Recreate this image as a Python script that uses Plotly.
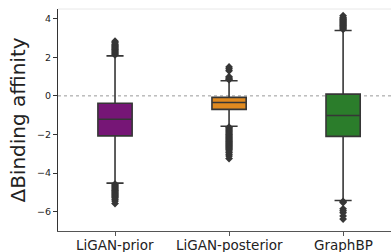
import plotly.graph_objects as go

categories = ["LiGAN-prior", "LiGAN-posterior", "GraphBP"]
positions = [0, 1, 2]
q1 = [-2.07, -0.70, -2.10]
median = [-1.21, -0.34, -1.02]
q3 = [-0.38, -0.08, 0.09]
lower_fence = [-4.52, -1.57, -5.42]
upper_fence = [2.07, 0.78, 3.39]
box_colors = ["#761676", "#e08a20", "#2b7d2b"]

outliers_prior = [2.12, 2.17, 2.22, 2.27, 2.32, 2.37, 2.42, 2.47, 2.52, 2.57, 2.62, 2.68, 2.75, 2.83,
                  -4.57, -4.62, -4.67, -4.72, -4.77, -4.82, -4.87, -4.92, -4.97, -5.02, -5.07,
                  -5.12, -5.17, -5.22, -5.28, -5.35, -5.45, -5.58]
outliers_posterior = [0.84, 0.88, 0.93, 0.99, 1.30, 1.40, 1.50,
                      -1.62, -1.67, -1.72, -1.77, -1.82, -1.87, -1.92, -1.97, -2.02, -2.07,
                      -2.12, -2.17, -2.22, -2.27, -2.32, -2.37, -2.42, -2.47, -2.52, -2.57,
                      -2.62, -2.67, -2.72, -2.78, -2.85, -2.93, -3.02, -3.12, -3.25]
outliers_graphbp = [3.45, 3.50, 3.55, 3.60, 3.65, 3.70, 3.75, 3.80, 3.85, 3.90, 3.95, 4.00, 4.06, 4.15,
                    -5.47, -5.53, -5.85, -5.95, -6.05, -6.22, -6.38]
outliers = [outliers_prior, outliers_posterior, outliers_graphbp]

y_ticks = [-6, -4, -2, 0, 2, 4]

line_col = "#363636"
fig = go.Figure()
for pos, a, m, b, lo, hi, col in zip(positions, q1, median, q3, lower_fence, upper_fence, box_colors):
    fig.add_trace(go.Box(
        x=[pos], q1=[a], median=[m], q3=[b], lowerfence=[lo], upperfence=[hi],
        fillcolor=col, line=dict(color=line_col, width=1.6), width=0.3, whiskerwidth=0.5,
        boxpoints=False, showlegend=False, hoverinfo="skip"))
for pos, vals in zip(positions, outliers):
    fig.add_trace(go.Scatter(
        x=[pos] * len(vals), y=vals, mode="markers",
        marker=dict(symbol="diamond", size=6, color=line_col, line=dict(width=0)),
        showlegend=False, hoverinfo="skip"))

fig.add_shape(type="line", xref="paper", yref="y", x0=0, x1=1, y0=0, y1=0,
              line=dict(color="#9a9a9a", width=1, dash="dot"), layer="below")
fig.add_shape(type="line", xref="paper", yref="paper", x0=0, x1=1, y0=1, y1=1,
              line=dict(color="#e8e8e8", width=1))

for pos, cat in zip(positions, categories):
    fig.add_annotation(x=pos, y=0, xref="x", yref="paper", text=cat, showarrow=False,
                       xanchor="center", yanchor="top", yshift=-4,
                       font=dict(size=13.5, color="#222", family="DejaVu Sans"))

fig.update_layout(
    width=391, height=252,
    margin=dict(l=58, r=0, t=9, b=21),
    paper_bgcolor="white", plot_bgcolor="white",
    font=dict(family="DejaVu Sans", color="#222"),
    xaxis=dict(range=[-0.5, 2.42], tickvals=positions, showticklabels=False,
               showgrid=False, zeroline=False, showline=True, linecolor="#555", linewidth=1,
               ticks="outside", ticklen=4, tickcolor="#555"),
    yaxis=dict(range=[-7, 4.5], tickvals=y_ticks,
               showgrid=False, zeroline=False, showline=True, linecolor="#333", linewidth=1,
               ticks="outside", ticklen=4, tickcolor="#333", tickfont=dict(size=9.5),
               title=dict(text="ΔBinding affinity", font=dict(size=20), standoff=6)),
)

fig.write_html("out.html", config={"displayModeBar": False},
               post_script="document.body.style.margin='0';")
